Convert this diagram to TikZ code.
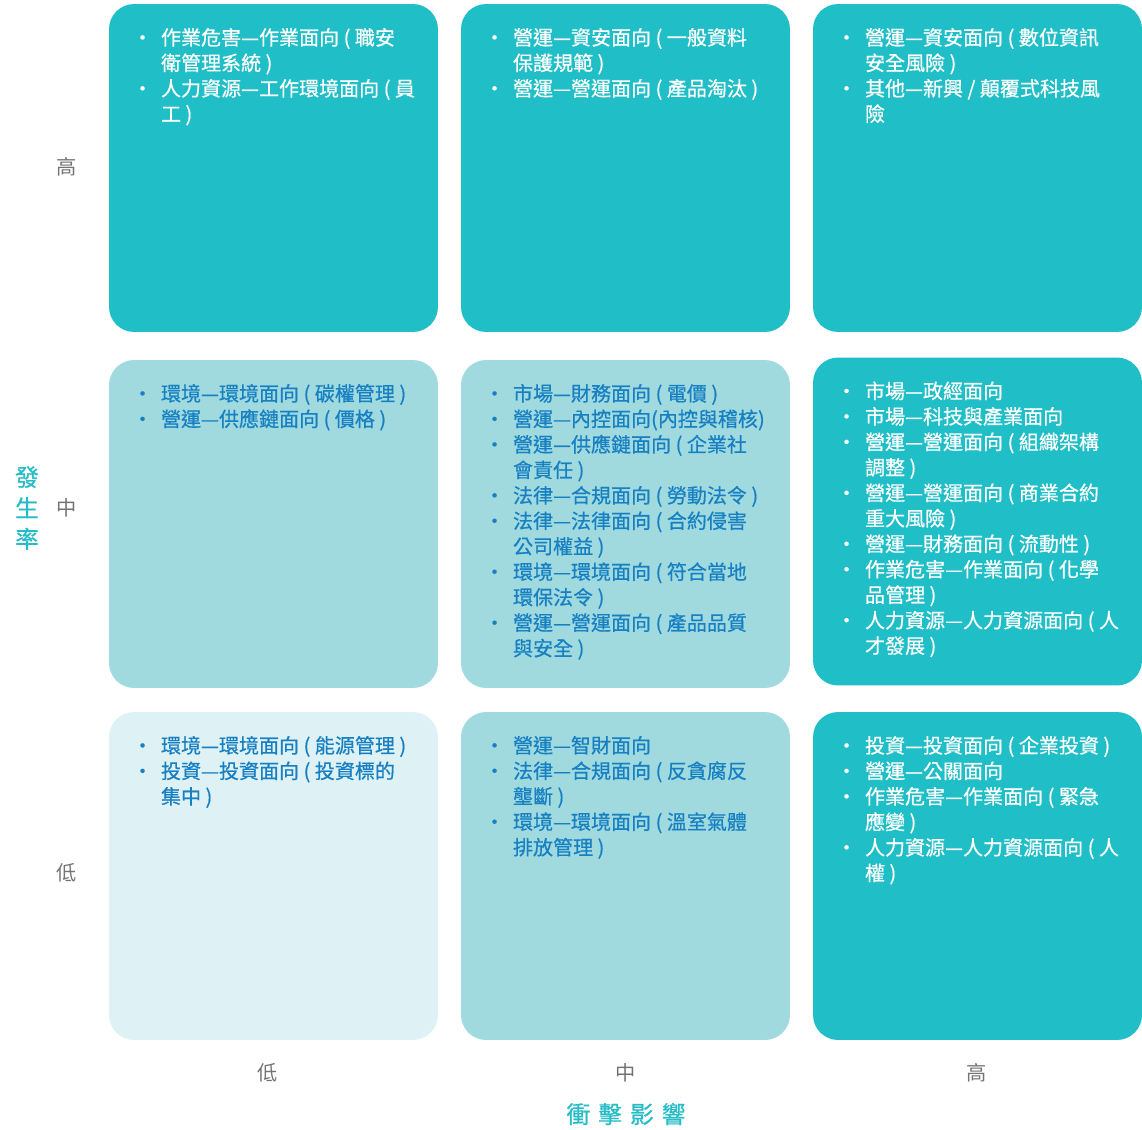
\documentclass[tikz,border=0pt]{standalone}
\usepackage{fontspec}
\usepackage{tikz}
\usetikzlibrary{calc}
\newfontfamily\cjk{Noto Sans CJK TC}
\newfontfamily\cjkitem[FakeBold=0.6]{Noto Sans CJK TC}
\definecolor{tealdark}{HTML}{20BEC6}
\definecolor{tealmid}{HTML}{A0DADF}
\definecolor{teallight}{HTML}{DEF1F4}
\definecolor{itemblue}{HTML}{1780C3}
\definecolor{axisgray}{HTML}{737373}
\definecolor{titleteal}{HTML}{24BCC6}
\def\bl{\makebox[0.46cm][l]{\hspace*{-0.11cm}·}}
\def\nx{\hspace*{0.46cm}}
\tikzset{
	cell/.style={rounded corners=0.5cm, minimum width=6.58cm, minimum height=6.56cm, inner sep=0pt},
	items/.style={anchor=north west, align=left, inner sep=0pt, font=\cjkitem\fontsize{11.4}{14.5}\selectfont},
	axislabel/.style={text=axisgray, inner sep=0pt, font=\cjk\fontsize{11.5}{14}\selectfont},
	axistitle/.style={text=titleteal, inner sep=0pt, align=center, font=\cjkitem\fontsize{13.5}{17.6}\selectfont}
}

\begin{document}
\begin{tikzpicture}[x=0.02cm, y=-0.02cm]
			%%%%% START %%%%%
			\useasboundingbox (0, 0) rectangle (1142, 1129);
			
			% row high
			\node[cell, fill=tealdark] (c11) at (273.5, 168) {};
			\node[cell, fill=tealdark] (c12) at (625.5, 168) {};
			\node[cell, fill=tealdark] (c13) at (977.5, 168) {};
			
			% row middle
			\node[cell, fill=tealmid] (c21) at (273.5, 524) {};
			\node[cell, fill=tealmid] (c22) at (625.5, 524) {};
			\node[cell, fill=tealdark] (c23) at (977.5, 521.5) {};
			
			% row low
			\node[cell, fill=teallight] (c31) at (273.5, 876) {};
			\node[cell, fill=tealmid] (c32) at (625.5, 876) {};
			\node[cell, fill=tealdark] (c33) at (977.5, 876) {};
			
			\node[items, text=white] (t11) at ([shift={(29, 24)}]c11.north west) {%
				\bl 作業危害—作業面向 ( 職安\\ \nx 衛管理系統 )\\
				\bl 人力資源—工作環境面向 ( 員\\ \nx 工 )};
			\node[items, text=white] (t12) at ([shift={(29, 24)}]c12.north west) {%
				\bl 營運—資安面向 ( 一般資料\\ \nx 保護規範 )\\
				\bl 營運—營運面向 ( 產品淘汰 )};
			\node[items, text=white] (t13) at ([shift={(29, 24)}]c13.north west) {%
				\bl 營運—資安面向 ( 數位資訊\\ \nx 安全風險 )\\
				\bl 其他—新興 / 顛覆式科技風\\ \nx 險};
			
			\node[items, text=itemblue] (t21) at ([shift={(29, 24)}]c21.north west) {%
				\bl 環境—環境面向 ( 碳權管理 )\\
				\bl 營運—供應鏈面向 ( 價格 )};
			\node[items, text=itemblue] (t22) at ([shift={(29, 24)}]c22.north west) {%
				\bl 市場—財務面向 ( 電價 )\\
				\bl 營運—內控面向(內控與稽核)\\
				\bl 營運—供應鏈面向 ( 企業社\\ \nx 會責任 )\\
				\bl 法律—合規面向 ( 勞動法令 )\\
				\bl 法律—法律面向 ( 合約侵害\\ \nx 公司權益 )\\
				\bl 環境—環境面向 ( 符合當地\\ \nx 環保法令 )\\
				\bl 營運—營運面向 ( 產品品質\\ \nx 與安全 )};
			\node[items, text=white] (t23) at ([shift={(29, 24)}]c23.north west) {%
				\bl 市場—政經面向\\
				\bl 市場—科技與產業面向\\
				\bl 營運—營運面向 ( 組織架構\\ \nx 調整 )\\
				\bl 營運—營運面向 ( 商業合約\\ \nx 重大風險 )\\
				\bl 營運—財務面向 ( 流動性 )\\
				\bl 作業危害—作業面向 ( 化學\\ \nx 品管理 )\\
				\bl 人力資源—人力資源面向 ( 人\\ \nx 才發展 )};
			
			\node[items, text=itemblue] (t31) at ([shift={(29, 24)}]c31.north west) {%
				\bl 環境—環境面向 ( 能源管理 )\\
				\bl 投資—投資面向 ( 投資標的\\ \nx 集中 )};
			\node[items, text=itemblue] (t32) at ([shift={(29, 24)}]c32.north west) {%
				\bl 營運—智財面向\\
				\bl 法律—合規面向 ( 反貪腐反\\ \nx 壟斷 )\\
				\bl 環境—環境面向 ( 溫室氣體\\ \nx 排放管理 )};
			\node[items, text=white] (t33) at ([shift={(29, 24)}]c33.north west) {%
				\bl 投資—投資面向 ( 企業投資 )\\
				\bl 營運—公關面向\\
				\bl 作業危害—作業面向 ( 緊急\\ \nx 應變 )\\
				\bl 人力資源—人力資源面向 ( 人\\ \nx 權 )};
			
			% axes
			\node[axislabel] (yhigh) at (67, 167) {高};
			\node[axislabel] (ymid) at (67, 508) {中};
			\node[axislabel] (ylow) at (67, 873) {低};
			\node[axistitle] (ytitle) at (27, 508) {發\\生\\率};
			
			\node[axislabel] (xlow) at (268, 1073) {低};
			\node[axislabel] (xmid) at (626, 1073) {中};
			\node[axislabel] (xhigh) at (977, 1073) {高};
			\node[axistitle] (xtitle) at (626, 1114) {衝\hspace{0.16cm}擊\hspace{0.16cm}影\hspace{0.16cm}響};
			
			%%%%% END %%%%%
\end{tikzpicture}
\end{document}
